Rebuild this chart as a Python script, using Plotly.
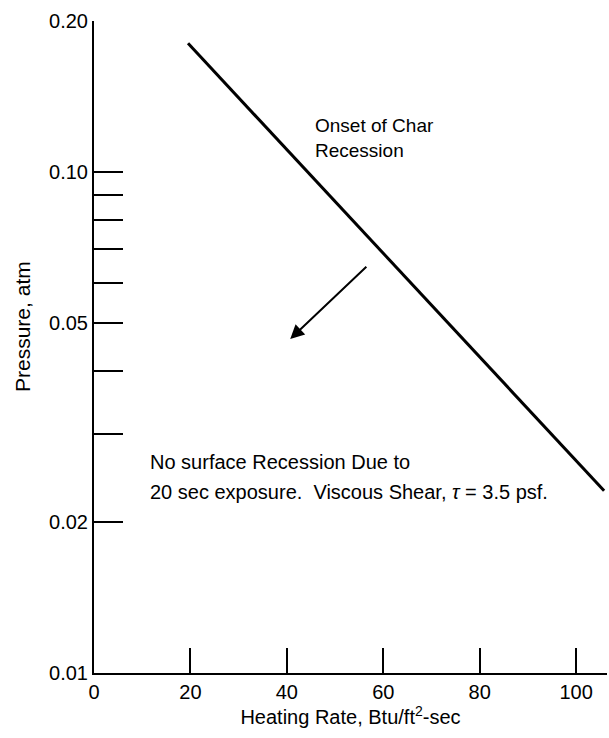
import math
import plotly.graph_objects as go

# Onset-of-char-recession boundary (heating rate vs. pressure)
heating_rate = [19.5, 105.8]
onset_pressure = [0.1805, 0.0231]

# Axis ticks
x_tick_vals = [0, 20, 40, 60, 80, 100]
x_tick_text = ["0", "20", "40", "60", "80", "100"]
y_tick_vals = [0.2, 0.1, 0.09, 0.08, 0.07, 0.06, 0.05, 0.04, 0.03, 0.02, 0.01]
y_tick_text = ["0.20", "0.10", " ", " ", " ", " ", "0.05", " ", " ", "0.02", "0.01"]

# Arrow pointing into the no-recession region (tail -> head)
arrow_tail = (56.8, 0.0651)
arrow_head = (40.7, 0.0464)

# Label anchors (heating rate, pressure)
onset_label_pos = (45.4, 0.117)
note_line1_pos = (11.2, 0.0264)
note_line2_pos = (11.2, 0.0230)

FONT = "Liberation Sans, Arial, sans-serif"

fig = go.Figure()
fig.add_trace(go.Scatter(
    x=heating_rate, y=onset_pressure, mode="lines",
    line=dict(color="black", width=3), showlegend=False, hoverinfo="skip",
))

fig.add_annotation(
    x=arrow_head[0], y=math.log10(arrow_head[1]),
    ax=arrow_tail[0], ay=math.log10(arrow_tail[1]),
    xref="x", yref="y", axref="x", ayref="y",
    text="", showarrow=True, arrowhead=2, arrowsize=1.4, arrowwidth=2,
    arrowcolor="black",
)
fig.add_annotation(
    x=onset_label_pos[0], y=math.log10(onset_label_pos[1]),
    xref="x", yref="y", xanchor="left", yanchor="middle", align="left",
    text="Onset of Char<br>Recession", showarrow=False,
    font=dict(family=FONT, size=19, color="black"),
)
fig.add_annotation(
    x=note_line1_pos[0], y=math.log10(note_line1_pos[1]),
    xref="x", yref="y", xanchor="left", yanchor="middle",
    text="No surface Recession Due to", showarrow=False,
    font=dict(family=FONT, size=20, color="black"),
)
fig.add_annotation(
    x=note_line2_pos[0], y=math.log10(note_line2_pos[1]),
    xref="x", yref="y", xanchor="left", yanchor="middle",
    text="20 sec exposure.  Viscous Shear, <i>τ</i> = 3.5 psf.", showarrow=False,
    font=dict(family=FONT, size=20, color="black"),
)
# Y-axis title
fig.add_annotation(
    x=-0.138, y=0.531, xref="paper", yref="paper",
    xanchor="center", yanchor="middle", textangle=-90,
    text="Pressure, atm", showarrow=False,
    font=dict(family=FONT, size=21, color="black"),
)

fig.update_layout(
    width=609, height=738,
    margin=dict(l=94, r=2, t=21, b=65),
    paper_bgcolor="white", plot_bgcolor="white",
    font=dict(family=FONT, size=20, color="black"),
    showlegend=False,
)
fig.update_xaxes(
    range=[0, 106.4], showgrid=False, zeroline=False,
    showline=True, linecolor="black", linewidth=2,
    ticks="inside", ticklen=25, tickwidth=2, tickcolor="black",
    tickvals=x_tick_vals, ticktext=x_tick_text,
    tickfont=dict(family=FONT, size=20),
    title=dict(text="Heating Rate, Btu/ft<sup>2</sup>-sec",
               font=dict(family=FONT, size=20), standoff=8),
)
fig.update_yaxes(
    type="log", range=[math.log10(0.01), math.log10(0.2)],
    showgrid=False, zeroline=False,
    showline=True, linecolor="black", linewidth=2,
    ticks="inside", ticklen=29, tickwidth=2, tickcolor="black",
    tickvals=y_tick_vals, ticktext=y_tick_text,
    tickfont=dict(family=FONT, size=20),
)

fig.write_html("out.html")
